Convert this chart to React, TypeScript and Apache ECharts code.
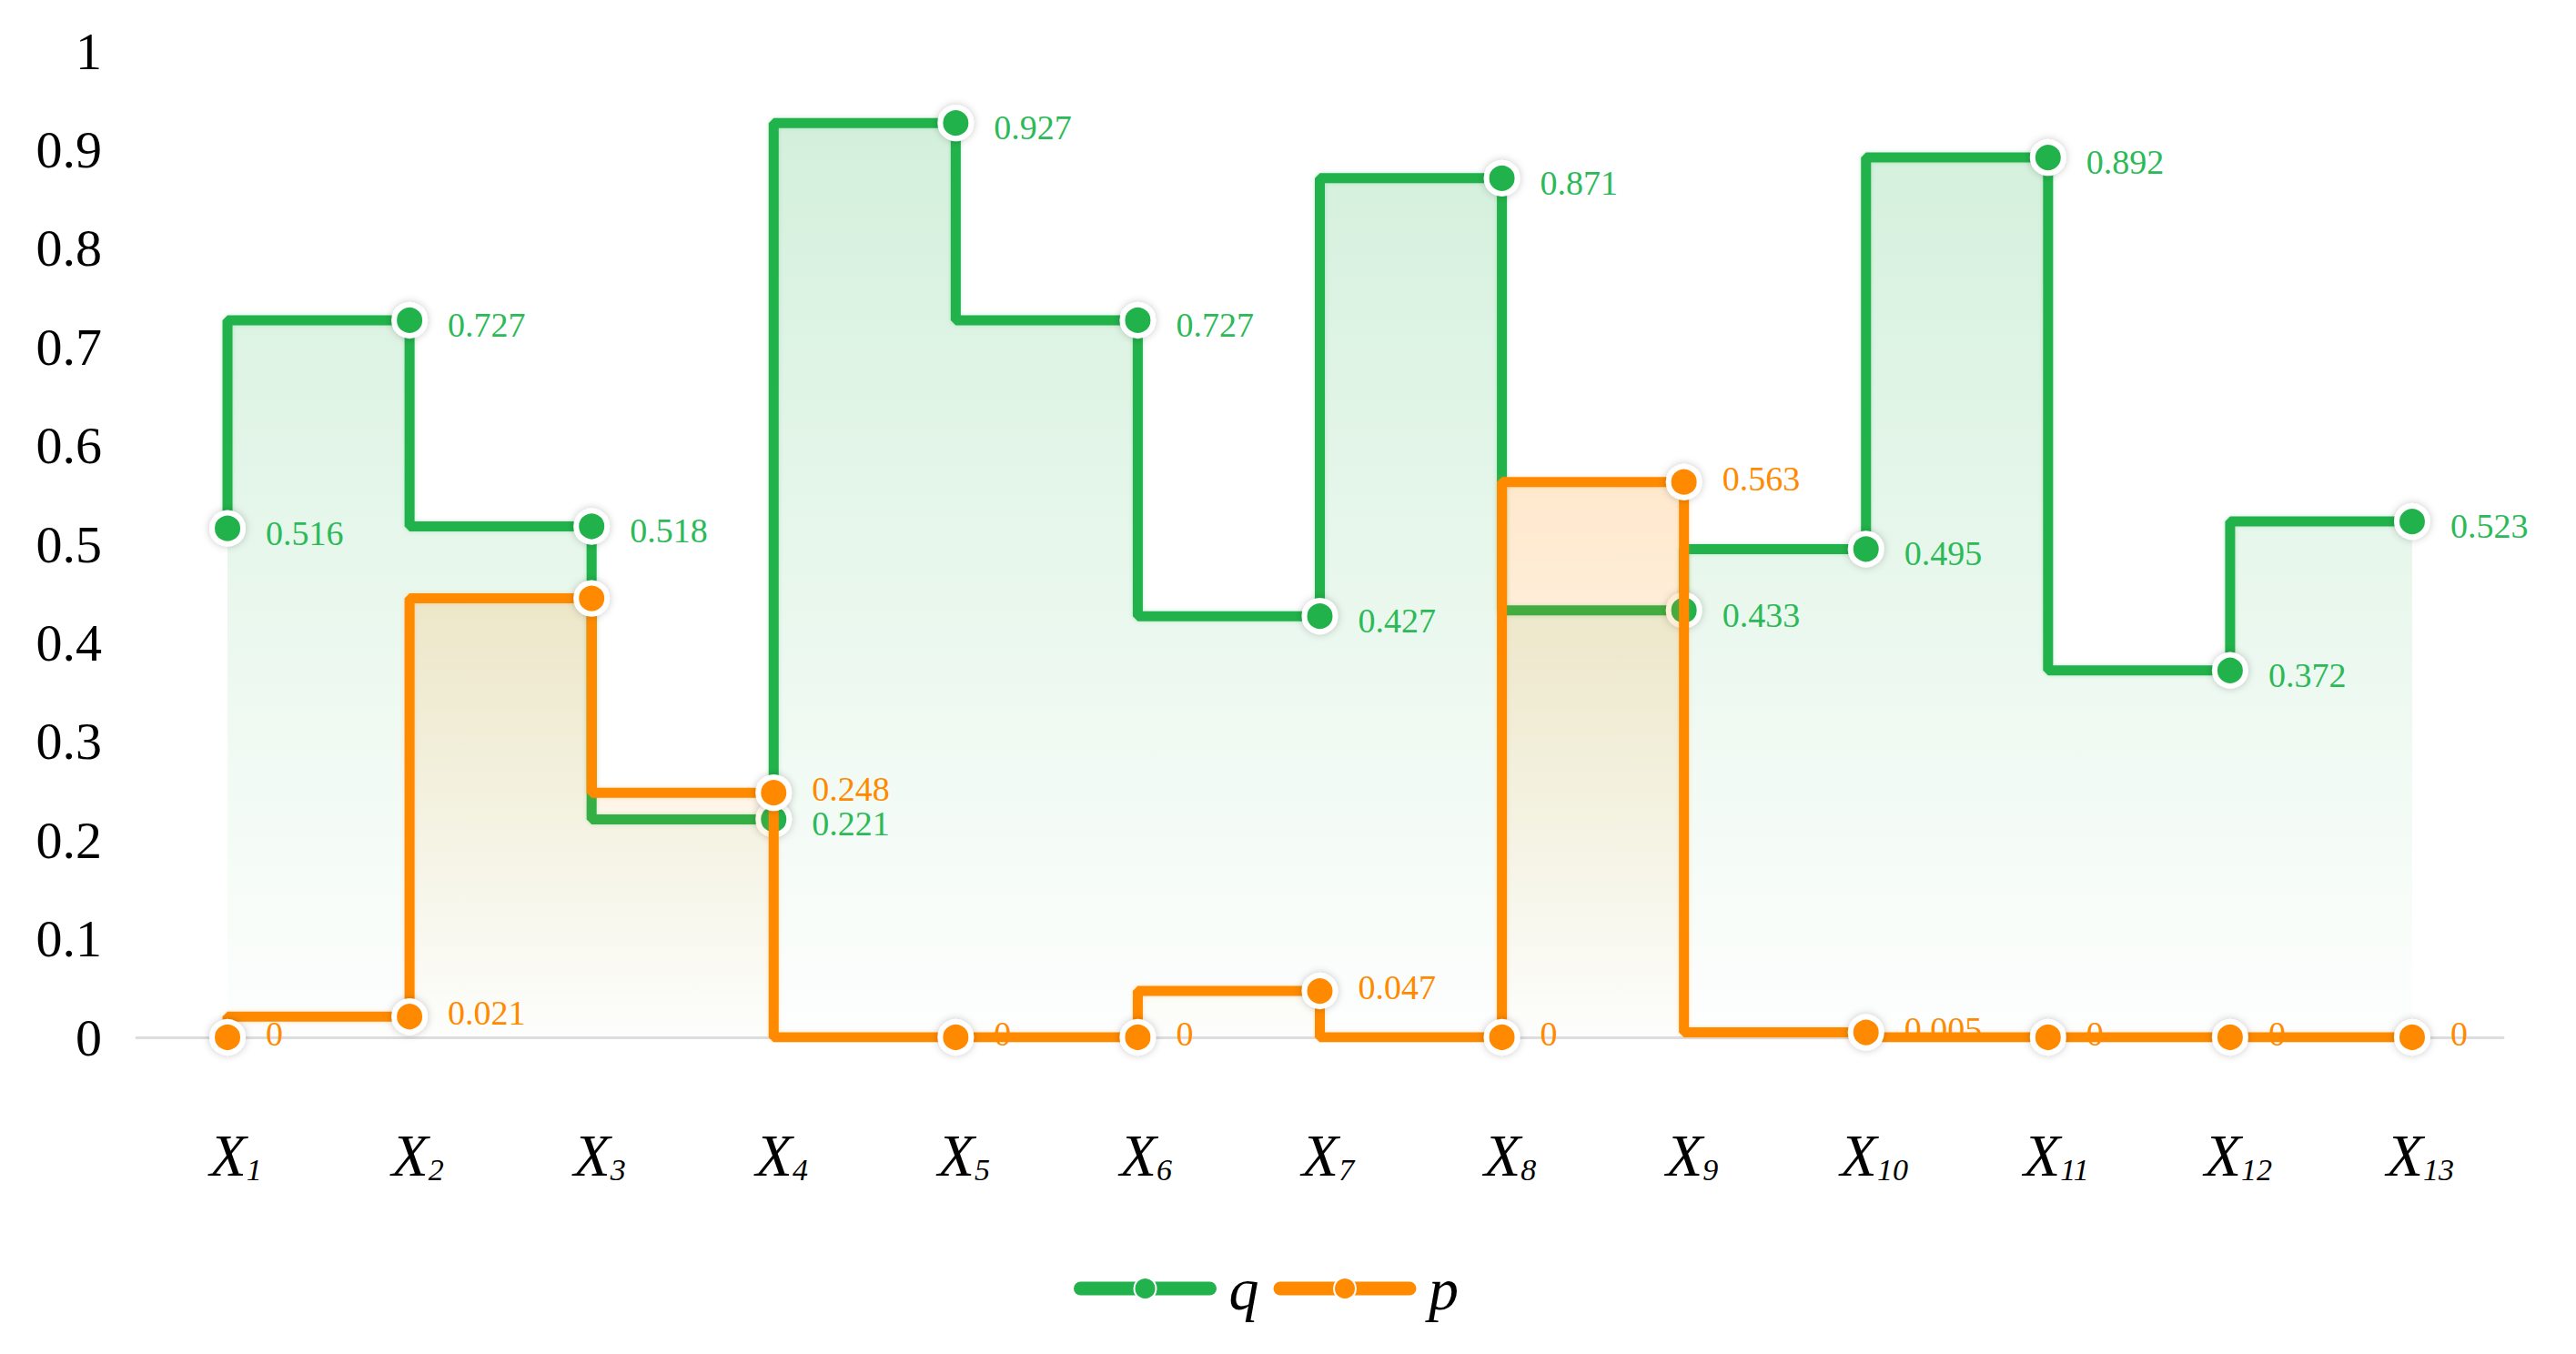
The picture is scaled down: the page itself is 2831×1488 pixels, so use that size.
import React, { useEffect, useRef } from "react";
import * as echarts from "echarts";

const categories = ["1", "2", "3", "4", "5", "6", "7", "8", "9", "10", "11", "12", "13"];
const qValues = [0.516, 0.727, 0.518, 0.221, 0.927, 0.727, 0.427, 0.871, 0.433, 0.495, 0.892, 0.372, 0.523];
const pValues = [0, 0.021, 0.445, 0.248, 0, 0, 0.047, 0, 0.563, 0.005, 0, 0, 0];
const pHiddenLabels = [2];
const yTicks = { min: 0, max: 1, interval: 0.1 };

const GREEN = "#22b24c";
const ORANGE = "#ff8a00";
const SERIF = "'Liberation Serif', 'Times New Roman', serif";

export default function App() {
  const ref = useRef<HTMLDivElement>(null);
  useEffect(() => {
    document.body.style.margin = "0";
    document.body.style.overflow = "hidden";
    const chart = echarts.init(ref.current!, undefined, { renderer: "svg" });
    const symbolStyle = (c: string) => ({
      color: c,
      borderColor: "#fff",
      borderWidth: 6,
      shadowBlur: 8,
      shadowColor: "rgba(0,0,0,0.22)",
    });
    const labelStyle = (c: string, dy: number) => ({
      show: true,
      position: "right",
      distance: 22,
      offset: [0, dy],
      color: c,
      fontSize: 38,
      fontFamily: SERIF,
    });
    const area = (r: number, g: number, b: number) => ({
      color: new echarts.graphic.LinearGradient(0, 0, 0, 1, [
        { offset: 0, color: `rgba(${r},${g},${b},0.28)` },
        { offset: 1, color: `rgba(${r},${g},${b},0.01)` },
      ]),
    });
    chart.setOption({
      animation: false,
      backgroundColor: "#fff",
      grid: { left: 150, right: 80, top: 56, bottom: 348, containLabel: false },
      legend: {
        top: 1378,
        left: 1175,
        itemWidth: 142,
        itemHeight: 30,
        itemGap: 16,
        lineStyle: { width: 15, cap: "round" },
        textStyle: {
          fontSize: 66,
          fontStyle: "italic",
          fontFamily: SERIF,
          color: "#000",
          padding: [0, 0, 0, 16],
        },
        data: ["q", "p"],
      },
      xAxis: {
        type: "category",
        data: categories,
        boundaryGap: true,
        axisLine: { show: true, lineStyle: { color: "#dddddd", width: 3 } },
        axisTick: { show: false },
        axisLabel: {
          margin: 92,
          formatter: (v: string) => `{x|X}{s|${v}}`,
          rich: {
            x: {
              fontSize: 66,
              fontStyle: "italic",
              fontFamily: SERIF,
              color: "#000",
              lineHeight: 70,
              verticalAlign: "bottom",
              padding: [0, 0, 0, 18],
            },
            s: {
              fontSize: 34,
              fontStyle: "italic",
              fontFamily: SERIF,
              color: "#000",
              lineHeight: 34,
              verticalAlign: "bottom",
            },
          },
        },
      },
      yAxis: {
        type: "value",
        min: yTicks.min,
        max: yTicks.max,
        interval: yTicks.interval,
        axisLine: { show: false },
        axisTick: { show: false },
        splitLine: { show: false },
        axisLabel: { fontSize: 58, fontFamily: SERIF, color: "#000", margin: 38 },
      },
      series: [
        {
          name: "q",
          type: "line",
          step: "start",
          data: qValues,
          symbol: "circle",
          symbolSize: 34,
          showAllSymbol: true,
          lineStyle: { color: GREEN, width: 11, shadowBlur: 4, shadowColor: "rgba(34,178,76,0.25)" },
          itemStyle: symbolStyle(GREEN),
          label: labelStyle("#2cba58", 5),
          areaStyle: area(34, 178, 76),
          z: 2,
        },
        {
          name: "p",
          type: "line",
          step: "start",
          data: pValues.map((v, i) =>
            pHiddenLabels.includes(i) ? { value: v, label: { show: false } } : v
          ),
          symbol: "circle",
          symbolSize: 34,
          showAllSymbol: true,
          lineStyle: { color: ORANGE, width: 11, shadowBlur: 4, shadowColor: "rgba(255,138,0,0.25)" },
          itemStyle: symbolStyle(ORANGE),
          label: labelStyle(ORANGE, -4),
          areaStyle: area(255, 140, 0),
          z: 3,
        },
      ],
    });
    return () => chart.dispose();
  }, []);
  return <div ref={ref} style={{ width: 2831, height: 1488 }} />;
}
